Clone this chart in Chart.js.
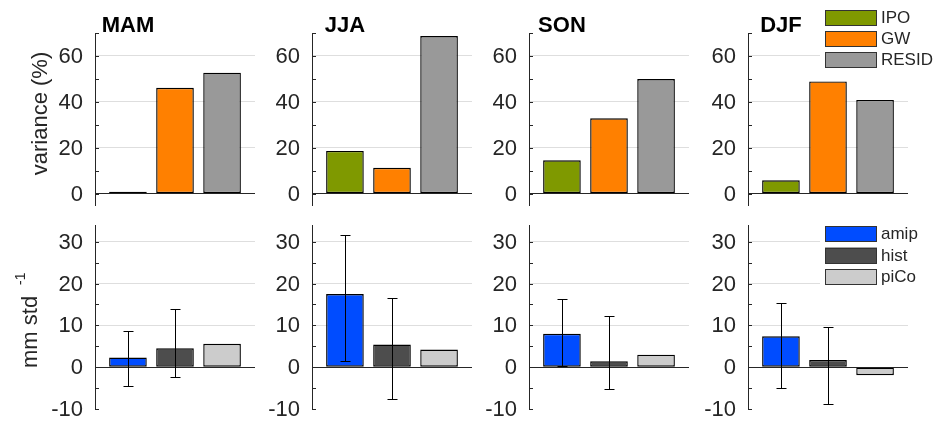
<!DOCTYPE html>
<html>
<head>
<meta charset="utf-8">
<script src="https://cdn.jsdelivr.net/npm/chart.js@4.4.1/dist/chart.umd.min.js"></script>
<style>
  html, body { margin: 0; padding: 0; background: #fff; }
  body { width: 933px; height: 423px; position: relative; overflow: hidden; }
  canvas { position: absolute; }
</style>
</head>
<body>
<script>
// Seasons shown as panel columns
const seasons = ['MAM', 'JJA', 'SON', 'DJF'];

// Upper row: share of variance (%) explained by each component
const varNames = ['IPO', 'GW', 'RESID'];
const ipoVar   = [0.8, 18.6, 14.5, 5.8];
const gwVar    = [46.1, 11.2, 32.8, 48.9];
const residVar = [52.7, 68.7, 49.9, 40.8];

// Lower row: trends (mm std^-1) per experiment, with spread ranges
const runNames   = ['amip', 'hist', 'piCo'];
const amipTrend  = [2.3, 17.5, 8.0, 7.4];
const amipLow    = [-4.4, 1.4, 0.3, -4.9];
const amipHigh   = [8.6, 31.6, 16.4, 15.3];
const histTrend  = [4.5, 5.4, 1.4, 1.7];
const histLow    = [-2.3, -7.7, -5.3, -8.9];
const histHigh   = [14.0, 16.6, 12.3, 9.6];
const piCoTrend  = [5.6, 4.2, 3.0, -1.9];

// Axis ticks: labelled values and grid values
const varTickLabels   = [0, 20, 40, 60];
const varGridValues   = [0, 10, 20, 30, 40, 50, 60, 70];
const trendTickLabels = [-10, 0, 10, 20, 30];
const trendGridValues = [-10, -5, 0, 5, 10, 15, 20, 25, 30];

// ---- styling / layout ----
const FONT = "'Liberation Sans', Arial, Helvetica, sans-serif";
const TEXT = '#262626';
const varColors = ['#7f9900', '#ff8000', '#999999'];
const runColors = ['#004cff', '#4d4d4d', '#cccccc'];

const PLOT_LEFT = [95, 312, 529, 748];
const PLOT_W = 160;
const ROWS = [
  { canvasTop: 0,   plotTop: 33,  plotBottom: 205, canvasBottom: 220, min: -5,  max: 70 },
  { canvasTop: 212, plotTop: 225, plotBottom: 409, canvasBottom: 423, min: -10, max: 34 }
];

Chart.defaults.font.family = FONT;

function makeDecor(cfg) {
  return {
    id: 'panelDecor',
    afterDatasetsDraw(chart) {
      if (!cfg.errLow) return;
      const ctx = chart.ctx, xs = chart.scales.x, ys = chart.scales.y;
      ctx.save();
      ctx.strokeStyle = '#000';
      ctx.lineWidth = 1;
      cfg.errLow.forEach((lo, i) => {
        if (lo === null) return;
        const hi = cfg.errHigh[i];
        const x = Math.round(xs.getPixelForValue(i + 1)) + 0.5;
        const y1 = Math.round(ys.getPixelForValue(lo)) + 0.5;
        const y2 = Math.round(ys.getPixelForValue(hi)) + 0.5;
        ctx.beginPath();
        ctx.moveTo(x, y1); ctx.lineTo(x, y2);
        ctx.moveTo(x - 5, y1); ctx.lineTo(x + 5, y1);
        ctx.moveTo(x - 5, y2); ctx.lineTo(x + 5, y2);
        ctx.stroke();
      });
      ctx.restore();
    },
    afterDraw(chart) {
      const ctx = chart.ctx, xs = chart.scales.x, ys = chart.scales.y;
      const area = chart.chartArea;
      ctx.save();
      // inward tick marks on the y axis
      ctx.strokeStyle = TEXT;
      ctx.lineWidth = 1;
      ctx.beginPath();
      cfg.grid.forEach(v => {
        const y = Math.round(ys.getPixelForValue(v)) + 0.5;
        ctx.moveTo(area.left, y); ctx.lineTo(area.left + 4, y);
      });
      ctx.stroke();

      // season title above the first bar
      if (cfg.title) {
        ctx.fillStyle = '#000';
        ctx.font = 'bold 22px ' + FONT;
        ctx.textAlign = 'center';
        ctx.textBaseline = 'alphabetic';
        ctx.fillText(cfg.title, xs.getPixelForValue(1), area.top - 1);
      }

      // rotated y-axis label
      if (cfg.yLabel) {
        ctx.fillStyle = TEXT;
        ctx.textBaseline = 'alphabetic';
        cfg.yLabel.forEach(part => {
          ctx.save();
          ctx.translate(part.x - cfg.offX, part.y - cfg.offY);
          ctx.rotate(-Math.PI / 2);
          ctx.font = part.size + 'px ' + FONT;
          ctx.textAlign = part.align;
          ctx.fillText(part.text, 0, 0);
          ctx.restore();
        });
      }

      // legend block
      if (cfg.legend) {
        const L = cfg.legend;
        ctx.fillStyle = '#fff';
        ctx.fillRect(L.bgX - cfg.offX, L.bgY - cfg.offY, L.bgW, L.bgH);
        L.names.forEach((name, i) => {
          const bx = L.boxX - cfg.offX;
          const by = L.boxY[i] - cfg.offY;
          ctx.fillStyle = L.colors[i];
          ctx.fillRect(bx, by, 52, 15.5);
          ctx.strokeStyle = '#333';
          ctx.lineWidth = 1;
          ctx.strokeRect(Math.round(bx) + 0.5, Math.round(by) + 0.5, 51, 15);
          ctx.fillStyle = TEXT;
          ctx.font = '17px ' + FONT;
          ctx.textAlign = 'left';
          ctx.textBaseline = 'middle';
          ctx.fillText(name, bx + 56, by + 8.5);
        });
      }
      ctx.restore();
    }
  };
}

function makePanel(row, col, values, colors, extra) {
  const r = ROWS[row];
  const axisW = col === 0 ? 95 : 70;
  const rightPad = col === 3 ? 933 - (PLOT_LEFT[col] + PLOT_W) : 4;
  const left = PLOT_LEFT[col] - axisW;
  const w = axisW + PLOT_W + rightPad;
  const h = r.canvasBottom - r.canvasTop;
  const cv = document.createElement('canvas');
  cv.width = w; cv.height = h;
  cv.style.left = left + 'px';
  cv.style.top = r.canvasTop + 'px';
  cv.style.width = w + 'px';
  cv.style.height = h + 'px';
  document.body.appendChild(cv);

  const grid = row === 0 ? varGridValues : trendGridValues;
  const labels = row === 0 ? varTickLabels : trendTickLabels;
  const cfg = Object.assign({ grid, offX: left, offY: r.canvasTop }, extra);

  new Chart(cv, {
    type: 'bar',
    data: {
      datasets: [{
        data: values.map((v, i) => ({ x: i + 1, y: v })),
        backgroundColor: colors,
        borderColor: '#000',
        borderWidth: 1.4,
        borderSkipped: false,
        categoryPercentage: 0.8,
        barPercentage: 1.0
      }]
    },
    options: {
      responsive: false,
      animation: false,
      devicePixelRatio: 1,
      layout: { padding: { top: r.plotTop - r.canvasTop, bottom: r.canvasBottom - r.plotBottom, left: 0, right: rightPad } },
      plugins: { legend: { display: false }, tooltip: { enabled: false } },
      scales: {
        x: { type: 'linear', min: 0.3, max: 3.7, display: false, offset: false },
        y: {
          min: r.min, max: r.max,
          afterFit: s => { s.width = axisW; s.paddingTop = 0; s.paddingBottom = 0; },
          afterBuildTicks: s => { s.ticks = grid.map(v => ({ value: v })); },
          ticks: {
            callback: v => labels.includes(v) ? String(v) : '',
            padding: 12,
            labelOffset: 1,
            color: TEXT,
            font: { size: 22, family: FONT }
          },
          grid: {
            drawTicks: false,
            lineWidth: 1,
            color: c => c.tick && c.tick.value === 0 ? TEXT
                 : (c.tick && c.tick.value === r.min ? 'rgba(0,0,0,0)' : '#dedede')
          },
          border: { display: true, color: TEXT, width: 1 }
        }
      }
    },
    plugins: [makeDecor(cfg)]
  });
}

seasons.forEach((season, c) => {
  const topExtra = { title: season };
  const botExtra = { errLow: [amipLow[c], histLow[c], null], errHigh: [amipHigh[c], histHigh[c], null] };
  if (c === 0) {
    topExtra.yLabel = [{ text: 'variance (%)', x: 47, y: 113.5, size: 22, align: 'center' }];
    botExtra.yLabel = [
      { text: 'mm std', x: 36.7, y: 368, size: 22, align: 'left' },
      { text: '-1', x: 25, y: 285, size: 14, align: 'left' }
    ];
  }
  if (c === 3) {
    topExtra.legend = { names: varNames, colors: varColors, boxX: 825, boxY: [10, 31, 52], bgX: 820, bgY: 4, bgW: 113, bgH: 69 };
    botExtra.legend = { names: runNames, colors: runColors, boxX: 825, boxY: [226, 247.5, 269], bgX: 820, bgY: 221, bgW: 113, bgH: 69 };
  }
  makePanel(0, c, [ipoVar[c], gwVar[c], residVar[c]], varColors, topExtra);
  makePanel(1, c, [amipTrend[c], histTrend[c], piCoTrend[c]], runColors, botExtra);
});
</script>
</body>
</html>
